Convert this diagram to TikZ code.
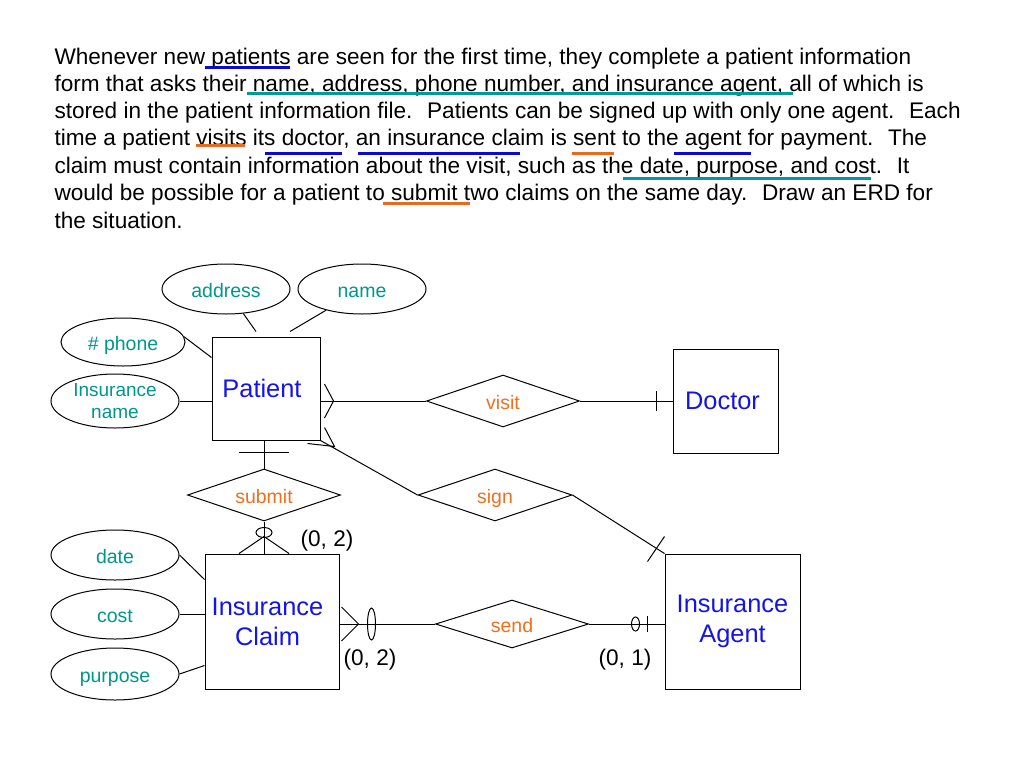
\documentclass[tikz,border=0pt]{standalone}
\usepackage{fontspec}
\setmainfont{Liberation Sans}
\usetikzlibrary{calc, shapes.geometric, positioning}

\definecolor{entblue}{RGB}{20,20,230}
\definecolor{attrteal}{RGB}{0,150,140}
\definecolor{relorange}{RGB}{240,110,30}
\definecolor{ulblue}{RGB}{10,10,210}
\definecolor{ulteal}{RGB}{0,155,150}
\definecolor{ulorange}{RGB}{235,105,30}

\tikzset{
  para/.style={anchor=base west, inner sep=0pt, font=\fontsize{22.6}{27}\selectfont},
  entity/.style={draw, rectangle, inner sep=0pt, text=entblue, align=center, font=\fontsize{25.4}{30}\selectfont},
  attrib/.style={draw, ellipse, inner sep=0pt, minimum width=128pt, minimum height=50pt, text=attrteal, align=center,
    text height=18pt, text depth=2pt, font=\fontsize{19.5}{23}\selectfont},
  relship/.style={draw, diamond, aspect=3, inner sep=0pt, minimum width=153pt, minimum height=52pt, text=relorange,
    text height=18pt, text depth=2pt, font=\fontsize{19.5}{23}\selectfont},
  card/.style={inner sep=0pt, font=\fontsize{22.6}{27}\selectfont},
  uline/.style={line width=3pt}
}

\begin{document}
\begin{tikzpicture}[x=1pt, y=-1pt, line width=1pt]
    \useasboundingbox (0,0) rectangle (1024,768);

    % 1. The exercise text
    \node[para] (line1) at (54,64) {Whenever new patients are seen for the first time, they complete a patient information};
    \node[para] (line2) at (54,91) {form that asks their name, address, phone number, and insurance agent, all of which is};
    \node[para] (line3) at (54,118) {stored in the patient information file.~ Patients can be signed up with only one agent.~ Each};
    \node[para] (line4) at (54,145.5) {time a patient visits its doctor, an insurance claim is sent to the agent for payment.~ The};
    \node[para] (line5) at (54,173) {claim must contain information about the visit, such as the date, purpose, and cost.~ It};
    \node[para] (line6) at (54,200.5) {would be possible for a patient to submit two claims on the same day.~ Draw an ERD for};
    \node[para] (line7) at (54,228) {the situation.};

    % 2. Hand-drawn underlines
    \draw[uline, ulblue] (205,67) -- (290,67);
    \draw[uline, ulteal] (247,93) -- (793,93);
    \draw[uline, ulorange] (196,145) -- (245,145);
    \draw[uline, ulblue] (265,153) -- (342,153);
    \draw[uline, ulblue] (358,153) -- (520,153);
    \draw[uline, ulorange] (572,153) -- (614,153);
    \draw[uline, ulblue] (674,153) -- (751,153);
    \draw[uline, ulteal] (623,178) -- (871,178);
    \draw[uline, ulorange] (383,203) -- (470,203);

    % 3. Entities
    \node[entity, minimum width=108pt, minimum height=103pt] (patient) at (266,388.5) {Patient\hspace*{8pt}};
    \node[entity, minimum width=105pt, minimum height=104pt] (doctor) at (725.5,401) {Doctor\hspace*{6pt}};
    \node[entity, minimum width=134pt, minimum height=135pt] (claim) at (272,621.5) {Insurance\hspace*{9pt}\\Claim\hspace*{9pt}};
    \node[entity, minimum width=135pt, minimum height=135pt] (agent) at (732.5,621.5) {Insurance\\Agent};

    % 4. Attributes
    \node[attrib] (address) at (226,289) {address};
    \node[attrib] (name) at (362,289) {name};
    \node[attrib, minimum width=124pt, minimum height=48pt] (phone) at (123,342) {\# phone};
    \node[attrib, minimum height=54pt, text height=, text depth=, font=\fontsize{19}{22}\selectfont] (insname) at (115,401) {Insurance\\name};
    \node[attrib] (date) at (115,555) {date};
    \node[attrib] (cost) at (115,614) {cost};
    \node[attrib, minimum height=52pt] (purpose) at (115,674) {purpose};

    \draw (address) -- ([shift={(-10,-5)}]patient.north);
    \draw (name) -- ([shift={(24,-5)}]patient.north);
    \draw (phone.5) -- ([shift={(0,21)}]patient.north west);
    \draw (insname) -- (insname -| patient.west);
    \draw (date.east) -- ([shift={(0,26)}]claim.north west);
    \draw (cost) -- (cost -| claim.west);
    \draw (purpose.east) -- ([shift={(0,-24)}]claim.south west);

    % 5. Relationships
    \node[relship] (visit) at (503,401) {visit};
    \node[relship, minimum width=154pt] (sign) at (495,495) {sign};
    \node[relship] (submit) at (264,495) {submit};
    \node[relship, minimum height=48pt] (send) at (512,624) {send};

    % Patient -- visit -- Doctor (many to one)
    \draw (patient.east |- visit.west) -- (visit.west);
    \draw ([shift={(4,-17)}]patient.east |- visit.west) -- ++(9,17) -- ++(-9,17);
    \draw (visit.east) -- (doctor.west);
    \draw ([shift={(-16,-10)}]doctor.west) -- ++(0,20);

    % Patient -- sign -- Insurance Agent
    \draw (patient.south east) -- (sign.west);
    \draw ([shift={(4,-13)}]patient.south east) -- ++(10,19) -- ++(-27,-3);
    \draw (sign.east) -- (agent.north west);
    \draw ([shift={(-17,8)}]agent.north west) -- ++(17,-25);

    % Patient -- submit -- Insurance Claim
    \draw (patient.south -| submit.north) -- (submit.north);
    \draw ([shift={(-25,12)}]patient.south -| submit.north) -- ++(50,0);
    \draw (submit.south) -- (submit.south |- claim.north);
    \draw ([shift={(-25,0)}]submit.south |- claim.north) -- ++(25,-17) -- ++(25,17);
    \draw ([shift={(0,-21)}]submit.south |- claim.north) ellipse [x radius=8pt, y radius=5pt];

    % Insurance Claim -- send -- Insurance Agent
    \draw (claim.east |- send.west) -- (send.west);
    \draw ([shift={(2,-17)}]claim.east |- send.west) -- ++(17,17) -- ++(-17,17);
    \draw ([shift={(32,0)}]claim.east |- send.west) ellipse [x radius=4pt, y radius=16pt];
    \draw (send.east) -- (agent.west |- send.east);
    \draw ([shift={(-29,0)}]agent.west |- send.east) ellipse [x radius=4pt, y radius=7pt];
    \draw ([shift={(-17,-8)}]agent.west |- send.east) -- ++(0,16);

    % 6. Cardinalities
    \node[card] (cardSubmit) at (327,541) {(0, 2)};
    \node[card] (cardClaim) at (370,660) {(0, 2)};
    \node[card] (cardAgent) at (625,660) {(0, 1)};

\end{tikzpicture}
\end{document}
